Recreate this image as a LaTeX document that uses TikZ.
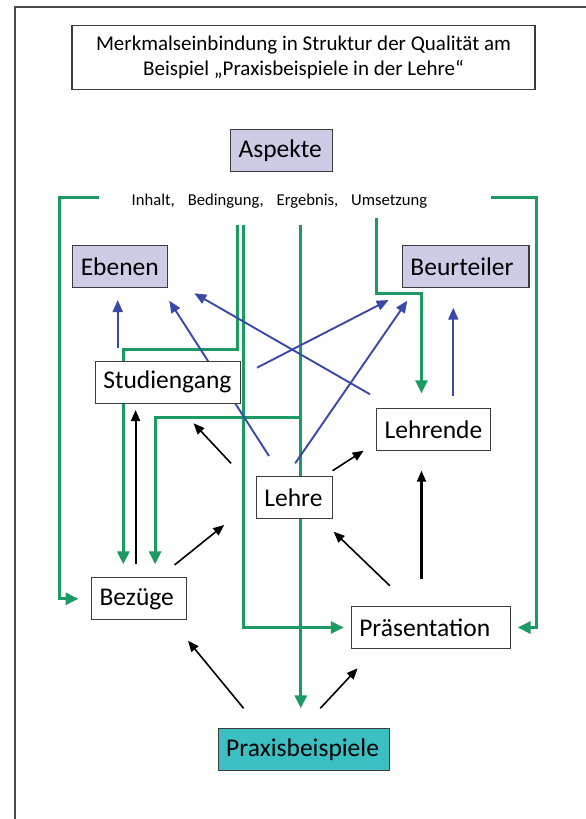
\documentclass[tikz,border=0pt]{standalone}
\usepackage{fontspec}
\setmainfont{Carlito}
\usetikzlibrary{arrows.meta}

\definecolor{frameline}{HTML}{4A4A4A}
\definecolor{boxline}{HTML}{3C3C3C}
\definecolor{flowgreen}{HTML}{1B9A62}
\definecolor{linkblue}{HTML}{3A48A8}
\definecolor{aspectfill}{HTML}{CCCCE6}
\definecolor{practicefill}{HTML}{3BBFC3}

\pgfdeclarelayer{connectors}
\pgfsetlayers{connectors,main}

\tikzset{
  box/.style={draw=boxline, line width=1.2pt, fill=white, minimum height=42pt,
    inner xsep=8pt, inner ysep=2pt, align=left,
    font=\fontsize{25.5}{30}\selectfont},
  greenflow/.style={draw=flowgreen, line width=3pt,
    -{Triangle[width=12pt,length=13pt]}},
  bluelink/.style={draw=linkblue, line width=1.9pt,
    -{Triangle[width=10pt,length=12pt]}},
  blacklink/.style={draw=black, line width=1.6pt,
    -{Triangle[width=9pt,length=11pt]}},
}

\begin{document}
\begin{tikzpicture}[x=1pt,y=-1pt]
\useasboundingbox (0,0) rectangle (586,819);

% outer frame, open to the right and bottom
\draw[frameline, line width=2pt] (586,7) -- (15,7) -- (15,819);

% title
\node[draw=boxline, line width=1.2pt, minimum width=463pt, minimum height=63.6pt,
  align=center, font=\fontsize{21}{24.5}\selectfont] (title) at (303.5,57.5)
  {Merkmalseinbindung in Struktur der Qualität am\\Beispiel „Praxisbeispiele in der Lehre“};

% boxes
\node[box, fill=aspectfill, text width=85.6pt] (aspekte) at (281.4,150.5) {Aspekte};
\node[anchor=base west, inner sep=0pt, font=\fontsize{16.6}{19}\selectfont] (aspektliste) at (131.5,205.5)
  {Inhalt,\hspace{13pt}Bedingung,\hspace{13pt}Ergebnis,\hspace{13pt}Umsetzung};
\node[box, fill=aspectfill, text width=79pt] (ebenen) at (120.3,266.3) {Ebenen};
\node[box, fill=aspectfill, text width=110.5pt] (beurteiler) at (465.7,266.5) {Beurteiler};
\node[box, text width=129pt] (studiengang) at (167.8,382.2) {Studiengang};
\node[box, text width=98pt] (lehrende) at (433.7,429.7) {Lehrende};
\node[box, text width=60.2pt] (lehre) at (294.5,497.5) {Lehre};
\node[box, text width=79.2pt] (bezuege) at (139.2,598.8) {Bezüge};
\node[box, text width=142.8pt] (praesentation) at (430.7,627.5) {Präsentation};
\node[box, fill=practicefill, text width=155.6pt] (praxis) at (304,749.5) {Praxisbeispiele};

% free ends and bends of the connectors
\coordinate (brL) at (99,197.3);
\coordinate (brLcorner) at (59.8,197.3);
\coordinate (bzIn0) at (78.5,598.8);
\coordinate (brR) at (490.6,197.3);
\coordinate (brRcorner) at (536.2,197.3);
\coordinate (prIn0) at (517.6,627.5);

\coordinate (gA) at (237.3,225);
\coordinate (gAbend) at (123.3,349.3);
\coordinate (bzIn1) at (123.3,564.3);
\coordinate (gB) at (243.6,225);
\coordinate (prIn1) at (343.8,627.5);
\coordinate (gC) at (300.8,225);
\coordinate (gCjoin) at (300.8,417.3);
\coordinate (bzIn2) at (155.1,564.3);
\coordinate (pxIn) at (300.8,708.3);
\coordinate (gD) at (376.3,218.3);
\coordinate (gDbend) at (421.5,293.3);
\coordinate (ldIn0) at (421.5,393.3);

\coordinate (sgOut1) at (117.7,347.7);
\coordinate (ebIn1) at (117.7,300);
\coordinate (ldOut1) at (453.3,396);
\coordinate (buIn1) at (453.3,307.7);
\coordinate (lhOut1) at (269,456);
\coordinate (ebIn2) at (169.3,300.7);
\coordinate (ldOut2) at (370,394.3);
\coordinate (ebIn3) at (194.3,293.3);
\coordinate (sgOut2) at (257,367.7);
\coordinate (buIn2) at (388.6,300);
\coordinate (lhOut2) at (295.2,463.3);
\coordinate (buIn3) at (407.3,300.7);

\coordinate (bzOut1) at (135.6,564);
\coordinate (sgIn1) at (135.6,410);
\coordinate (lhOut3) at (231,463.3);
\coordinate (sgIn2) at (193.6,423.3);
\coordinate (lhOut4) at (332.6,470.7);
\coordinate (ldIn1) at (363.6,450.7);
\coordinate (bzOut2) at (174.5,565);
\coordinate (lhIn1) at (224.2,525);
\coordinate (prOut1) at (389.8,585.7);
\coordinate (lhIn2) at (333.7,531.7);
\coordinate (prOut2) at (421.5,579);
\coordinate (ldIn2) at (421.5,470.7);
\coordinate (pxOut1) at (243.6,708.3);
\coordinate (bzIn3) at (188,640.7);
\coordinate (pxOut2) at (320.3,708.3);
\coordinate (prIn2) at (357.6,668.3);

\begin{pgfonlayer}{connectors}
  % aspects flowing into the structure
  \draw[greenflow] (brL) -- (brLcorner) |- (bzIn0);
  \draw[greenflow] (brR) -- (brRcorner) |- (prIn0);
  \draw[greenflow] (gA) |- (gAbend) -- (bzIn1);
  \draw[greenflow] (gB) |- (prIn1);
  \draw[greenflow] (gC) -- (pxIn);
  \draw[greenflow] (gCjoin) -| (bzIn2);
  \draw[greenflow] (gD) |- (gDbend) -- (ldIn0);

  % links to levels and assessors
  \draw[bluelink] (sgOut1) -- (ebIn1);
  \draw[bluelink] (ldOut1) -- (buIn1);
  \draw[bluelink] (lhOut1) -- (ebIn2);
  \draw[bluelink] (ldOut2) -- (ebIn3);
  \draw[bluelink] (sgOut2) -- (buIn2);
  \draw[bluelink] (lhOut2) -- (buIn3);

  % structural relations
  \draw[blacklink, line width=2.1pt] (bzOut1) -- (sgIn1);
  \draw[blacklink] (lhOut3) -- (sgIn2);
  \draw[blacklink] (lhOut4) -- (ldIn1);
  \draw[blacklink] (bzOut2) -- (lhIn1);
  \draw[blacklink] (prOut1) -- (lhIn2);
  \draw[blacklink, line width=2.1pt] (prOut2) -- (ldIn2);
  \draw[blacklink] (pxOut1) -- (bzIn3);
  \draw[blacklink] (pxOut2) -- (prIn2);
\end{pgfonlayer}
\end{tikzpicture}
\end{document}
